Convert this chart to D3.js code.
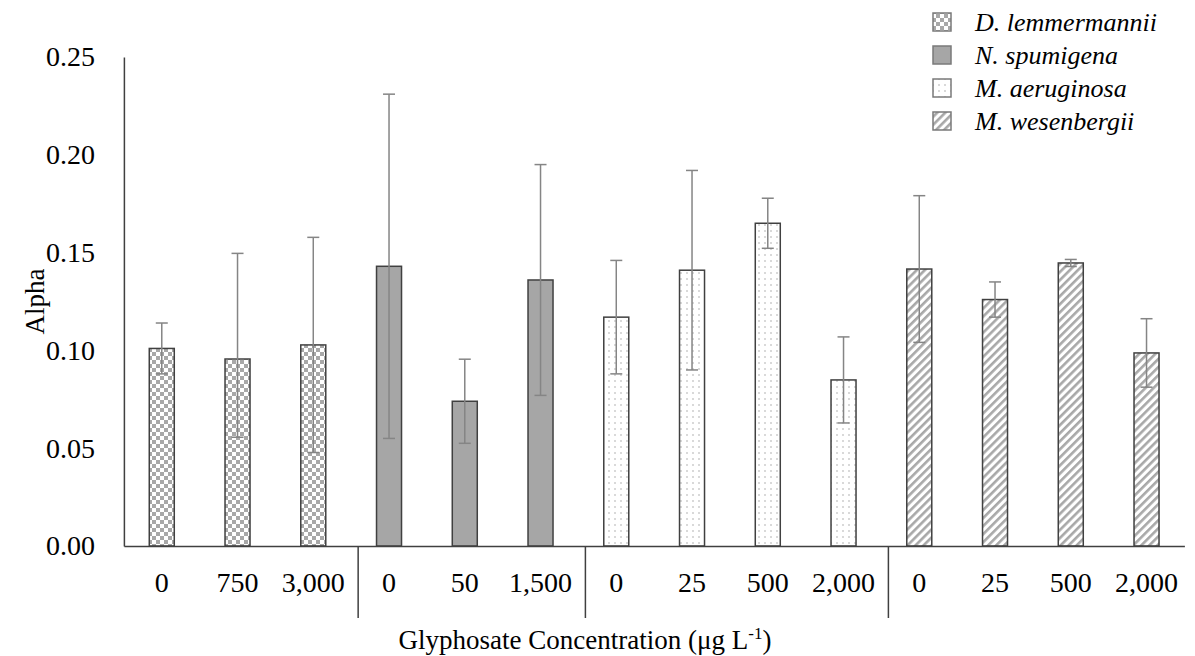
<!DOCTYPE html>
<html>
<head>
<meta charset="utf-8">
<script src="https://cdn.jsdelivr.net/npm/d3@7"></script>
<style>
  html, body { margin: 0; padding: 0; background: #fff; }
</style>
</head>
<body>
<svg id="chart" width="1195" height="656"></svg>
<script>
// Species groups and glyphosate concentrations tested for each
const species = ["D. lemmermannii", "N. spumigena", "M. aeruginosa", "M. wesenbergii"];
const concentrations = [
  ["0", "750", "3,000"],
  ["0", "50", "1,500"],
  ["0", "25", "500", "2,000"],
  ["0", "25", "500", "2,000"]
];
// Mean alpha per treatment
const alphaMean = [
  [0.101, 0.0956, 0.1028],
  [0.143, 0.074, 0.136],
  [0.117, 0.141, 0.165, 0.0849],
  [0.1416, 0.126, 0.1447, 0.0987]
];
// Upper and lower error extents per treatment
const alphaErrUp = [
  [0.013, 0.054, 0.055],
  [0.088, 0.0215, 0.059],
  [0.029, 0.051, 0.0128, 0.022],
  [0.0375, 0.009, 0.0018, 0.0175]
];
const alphaErrDown = [
  [0.013, 0.040, 0.055],
  [0.088, 0.0215, 0.059],
  [0.029, 0.051, 0.0128, 0.022],
  [0.0375, 0.009, 0.0018, 0.0175]
];
const yTicks = [0, 0.05, 0.10, 0.15, 0.20, 0.25];

const FONT = "'Liberation Serif', 'Times New Roman', serif";
const patternIds = ["pat-checker", "pat-solid", "pat-dots", "pat-hatch"];

// Flatten into one row per bar
const rows = [];
species.forEach((sp, g) => {
  concentrations[g].forEach((c, i) => {
    rows.push({
      key: g + "|" + i, group: g, label: c, mean: alphaMean[g][i],
      up: alphaErrUp[g][i], down: alphaErrDown[g][i]
    });
  });
});

const svg = d3.select("#chart").attr("font-family", FONT);

// Fill patterns
const defs = svg.append("defs");
const checker = defs.append("pattern").attr("id", "pat-checker")
  .attr("patternUnits", "userSpaceOnUse").attr("width", 8).attr("height", 8);
checker.append("rect").attr("width", 8).attr("height", 8).attr("fill", "#fff");
checker.append("rect").attr("width", 4).attr("height", 4).attr("fill", "#a8a8a8");
checker.append("rect").attr("x", 4).attr("y", 4).attr("width", 4).attr("height", 4).attr("fill", "#a8a8a8");

const solid = defs.append("pattern").attr("id", "pat-solid")
  .attr("patternUnits", "userSpaceOnUse").attr("width", 4).attr("height", 4);
solid.append("rect").attr("width", 4).attr("height", 4).attr("fill", "#a6a6a6");

const dots = defs.append("pattern").attr("id", "pat-dots")
  .attr("patternUnits", "userSpaceOnUse").attr("width", 6).attr("height", 6);
dots.append("rect").attr("width", 6).attr("height", 6).attr("fill", "#fff");
dots.append("circle").attr("cx", 3).attr("cy", 3).attr("r", 0.75).attr("fill", "#a0a0a0");

const hatch = defs.append("pattern").attr("id", "pat-hatch")
  .attr("patternUnits", "userSpaceOnUse").attr("width", 5.7).attr("height", 5.7)
  .attr("patternTransform", "rotate(45)");
hatch.append("rect").attr("width", 5.7).attr("height", 5.7).attr("fill", "#fff");
hatch.append("rect").attr("width", 2.6).attr("height", 5.7).attr("fill", "#a8a8a8");

// Scales
const x = d3.scaleBand()
  .domain(rows.map(d => d.key))
  .range([123.9, 1184.4])
  .paddingInner(0.67)
  .paddingOuter(0.335);
const y = d3.scaleLinear().domain([0, 0.25]).range([546, 57]);

const axisColor = "#404040";

// Y axis
const yAxis = svg.append("g").attr("transform", "translate(123.9,0)")
  .call(d3.axisLeft(y).tickValues(yTicks).tickFormat(d3.format(".2f")).tickSize(0).tickPadding(29));
yAxis.attr("font-family", FONT);
yAxis.select(".domain").attr("stroke", axisColor).attr("stroke-width", 1.5);
yAxis.selectAll("text").attr("font-size", 28).attr("fill", "#000");

// Bars
svg.append("g").selectAll("rect").data(rows).join("rect")
  .attr("x", d => x(d.key))
  .attr("y", d => y(d.mean))
  .attr("width", x.bandwidth())
  .attr("height", d => y(0) - y(d.mean))
  .attr("fill", d => `url(#${patternIds[d.group]})`)
  .attr("stroke", axisColor)
  .attr("stroke-width", 1.5);

// Error bars
const eb = svg.append("g").attr("stroke", "#858585").attr("stroke-width", 1.5).attr("fill", "none");
const cx = d => x(d.key) + x.bandwidth() / 2;
eb.selectAll("line.v").data(rows).join("line").attr("class", "v")
  .attr("x1", cx).attr("x2", cx)
  .attr("y1", d => y(d.mean + d.up)).attr("y2", d => y(d.mean - d.down));
eb.selectAll("line.t").data(rows).join("line").attr("class", "t")
  .attr("x1", d => cx(d) - 6).attr("x2", d => cx(d) + 6)
  .attr("y1", d => y(d.mean + d.up)).attr("y2", d => y(d.mean + d.up));
eb.selectAll("line.b").data(rows).join("line").attr("class", "b")
  .attr("x1", d => cx(d) - 6).attr("x2", d => cx(d) + 6)
  .attr("y1", d => y(d.mean - d.down)).attr("y2", d => y(d.mean - d.down));

// X axis baseline
const xAxis = svg.append("g").attr("transform", `translate(0,${y(0)})`)
  .call(d3.axisBottom(x).tickSize(0).tickPadding(26).tickFormat(k => rows.find(r => r.key === k).label));
xAxis.attr("font-family", FONT);
xAxis.select(".domain").attr("stroke", axisColor).attr("stroke-width", 1.5);
xAxis.selectAll("text").attr("font-size", 28).attr("fill", "#000");

// Group separators below the axis
const step = x.step();
const groupEnds = [];
let count = 0;
concentrations.forEach((c, g) => { count += c.length; if (g < concentrations.length - 1) groupEnds.push(rows[count - 1].key); });
const sepX = k => x(k) + x.bandwidth() + (step - x.bandwidth()) / 2 + 7;
svg.append("g").selectAll("line").data(groupEnds).join("line")
  .attr("x1", sepX).attr("x2", sepX)
  .attr("y1", y(0)).attr("y2", 618)
  .attr("stroke", axisColor).attr("stroke-width", 1.5);

// Axis titles
svg.append("text")
  .attr("transform", `translate(44,${(y(0) + y(0.25)) / 2}) rotate(-90)`)
  .attr("text-anchor", "middle").attr("font-size", 27).attr("fill", "#000")
  .attr("font-family", FONT)
  .text("Alpha");

const xt = svg.append("text")
  .attr("x", 585).attr("y", 649)
  .attr("text-anchor", "middle").attr("font-size", 27).attr("fill", "#000")
  .attr("font-family", FONT);
xt.append("tspan").text("Glyphosate Concentration (μg L");
xt.append("tspan").attr("font-size", 17).attr("dy", -10).text("-1");
xt.append("tspan").attr("dy", 10).text(")");

// Legend
const legend = svg.append("g");
const legendY = [22, 55, 88, 121];
species.forEach((sp, i) => {
  const row = legend.append("g").attr("transform", `translate(0,${legendY[i]})`);
  row.append("rect").attr("x", 933).attr("y", -9).attr("width", 18).attr("height", 18)
    .attr("fill", `url(#${patternIds[i]})`).attr("stroke", "#7a7a7a").attr("stroke-width", 1.5);
  row.append("text").attr("x", 975).attr("y", 9).attr("font-size", 26)
    .attr("font-family", FONT)
    .attr("font-style", "italic").attr("fill", "#000").text(sp);
});
</script>
</body>
</html>
